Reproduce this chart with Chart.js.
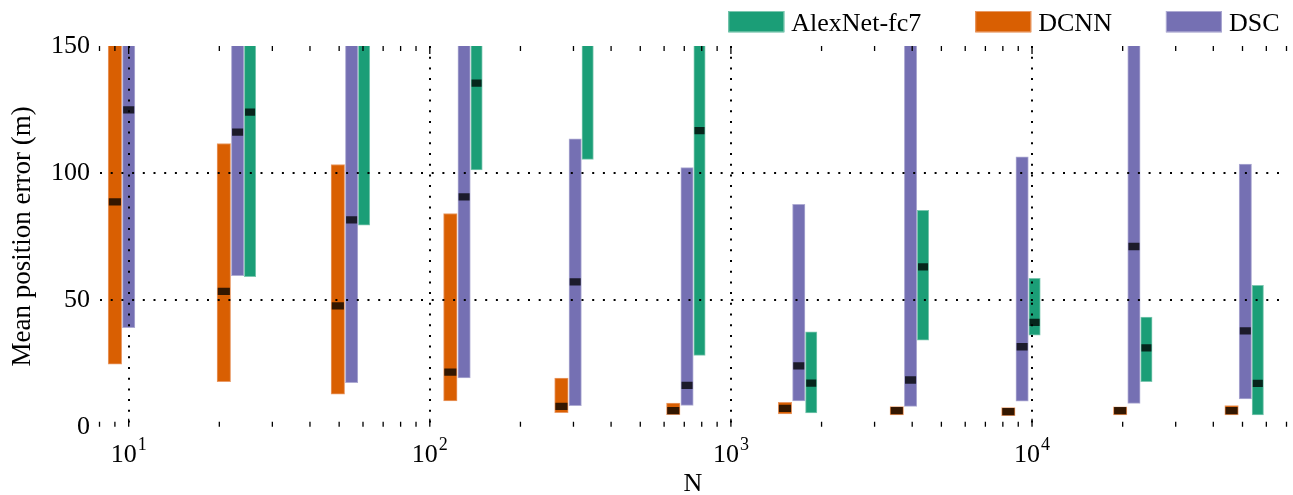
<!DOCTYPE html>
<html>
<head>
<meta charset="utf-8">
<script src="https://cdn.jsdelivr.net/npm/chart.js@4.4.1/dist/chart.umd.min.js"></script>
<style>
html, body { margin: 0; padding: 0; background: #fff; }
#wrap { width: 1293px; height: 495px; }
</style>
</head>
<body>
<div id="wrap"><canvas id="chart"></canvas></div>
<script>
// training set sizes (x positions of the groups)
var sizes = [10, 23, 55, 130, 304, 715, 1680, 3950, 9270, 21800, 51100];

// min / median / max of the error, per method
var alexMin = [null, 59.1, 79.4, 101.2, 105.3, 28.1, 5.4, 34.1, 36.1, 17.7, 4.6];
var alexMed = [null, 123.9, 168, 135.4, 172, 116.7, 17.2, 63.0, 41.1, 31.1, 17.1];
var alexMax = [null, 190, 240, 185, 230, 200, 37.4, 85.3, 58.5, 43.2, 55.7];

var dcnnMin = [24.6, 17.7, 12.8, 10.2, 5.5, 4.7, 5.0, 4.6, 4.3, 4.6, 4.6];
var dcnnMed = [88.6, 53.3, 47.6, 21.5, 8.0, 6.3, 7.2, 6.3, 5.9, 6.3, 6.3];
var dcnnMax = [175, 111.6, 103.3, 84.0, 19.2, 9.3, 9.6, 7.9, 7.5, 7.8, 8.3];

var dscMin = [39.0, 59.5, 17.3, 19.2, 8.3, 8.4, 10.2, 8.0, 10.1, 9.2, 10.9];
var dscMed = [124.8, 116.1, 81.5, 90.6, 57.1, 16.3, 24.0, 18.4, 31.5, 71.0, 37.8];
var dscMax = [210, 185, 195, 205, 113.4, 102.1, 87.6, 190, 106.3, 200, 103.5];

var yTicks = [0, 50, 100, 150];
var xDecades = [10, 100, 1000, 10000];

var FONT = '"Liberation Serif", "Times New Roman", serif';
Chart.defaults.font.family = FONT;
Chart.defaults.color = '#000';

var series = [
  {label: 'AlexNet-fc7', color: '#1b9e77', edge: '#7cc7b0', shift: 1.1, width: 11.4, lo: alexMin, mid: alexMed, hi: alexMax},
  {label: 'DCNN', color: '#d95f02', edge: '#e99a66', shift: 0.9, width: 13.5, lo: dcnnMin, mid: dcnnMed, hi: dcnnMax},
  {label: 'DSC', color: '#7570b3', edge: '#aeabd3', shift: 1.0, width: 12.4, lo: dscMin, mid: dscMed, hi: dscMax}
];

var datasets = [];
series.forEach(function(s){
  var pts = [];
  sizes.forEach(function(n, i){
    if (s.lo[i] === null) return;
    pts.push({x: n * s.shift, y: [s.lo[i], s.hi[i]]});
  });
  datasets.push({
    label: s.label, data: pts, backgroundColor: s.color, borderColor: s.edge,
    borderWidth: 1, borderSkipped: false, grouped: false, barThickness: s.width
  });
});
series.forEach(function(s){
  var pts = [];
  sizes.forEach(function(n, i){
    if (s.mid[i] === null) return;
    pts.push({x: n * s.shift, y: [s.mid[i] - 1.3, s.mid[i] + 1.3]});
  });
  datasets.push({
    label: s.label + ' median', data: pts, backgroundColor: 'rgba(0,0,0,0.76)',
    borderWidth: 0, grouped: false, barThickness: s.width - 2, order: -1
  });
});

function isDecade(v){
  var l = Math.log10(v);
  return Math.abs(l - Math.round(l)) < 1e-9;
}

// inward tick marks, 10^k labels and the legend
var decor = {
  id: 'decor',
  afterDraw: function(chart){
    var ctx = chart.ctx, a = chart.chartArea, xs = chart.scales.x;
    ctx.save();
    ctx.strokeStyle = '#000';
    ctx.lineWidth = 1.3;
    for (var e = 0; e <= 4; e++) {
      for (var k = 1; k <= 9; k++) {
        var v = k * Math.pow(10, e);
        if (v < xs.min - 1e-6 || v > xs.max + 1e-6) continue;
        var px = xs.getPixelForValue(v);
        var len = k === 1 ? 8 : 5;
        ctx.beginPath();
        ctx.moveTo(px, a.top); ctx.lineTo(px, a.top + len);
        ctx.moveTo(px, a.bottom); ctx.lineTo(px, a.bottom - len);
        ctx.stroke();
      }
    }

    ctx.fillStyle = '#000';
    ctx.textBaseline = 'alphabetic';
    ctx.textAlign = 'left';
    xDecades.forEach(function(v){
      var exp = String(Math.round(Math.log10(v)));
      ctx.font = '26px ' + FONT;
      var w1 = ctx.measureText('10').width;
      ctx.font = '18px ' + FONT;
      var w2 = ctx.measureText(exp).width;
      var x0 = xs.getPixelForValue(v) - (w1 + w2 + 1) / 2;
      ctx.font = '26px ' + FONT;
      ctx.fillText('10', x0, a.bottom + 35);
      ctx.font = '18px ' + FONT;
      ctx.fillText(exp, x0 + w1 + 1, a.bottom + 23.3);
    });

    // legend
    ctx.font = '26px ' + FONT;
    var x = 728.3;
    series.forEach(function(s){
      ctx.fillStyle = s.color;
      ctx.fillRect(x, 11, 56, 21.3);
      ctx.strokeStyle = s.edge;
      ctx.lineWidth = 1;
      ctx.strokeRect(x + 0.5, 11.5, 55, 20.3);
      ctx.fillStyle = '#000';
      ctx.fillText(s.label, x + 63, 31);
      x += 63 + ctx.measureText(s.label).width + 54;
    });
    ctx.restore();
  }
};

new Chart(document.getElementById('chart'), {
  type: 'bar',
  data: {datasets: datasets},
  plugins: [decor],
  options: {
    responsive: true,
    maintainAspectRatio: false,
    animation: false,
    layout: {padding: {top: 46, right: 6.5, left: 0, bottom: 0}},
    plugins: {legend: {display: false}, tooltip: {enabled: false}},
    scales: {
      x: {
        type: 'logarithmic',
        min: 8,
        max: 70000,
        offset: false,
        afterFit: function(s){ s.height = 68.3; },
        ticks: {display: false, autoSkip: false},
        grid: {
          offset: false,
          drawTicks: false,
          z: 1,
          lineWidth: 2,
          color: function(c){ return c.tick && isDecade(c.tick.value) ? '#000' : 'rgba(0,0,0,0)'; }
        },
        border: {display: false, dash: [2, 8.7]},
        title: {display: true, text: 'N', font: {size: 26, lineHeight: 0.8}, padding: {top: 0, bottom: 0.7}}
      },
      y: {
        min: 0,
        max: 150,
        afterFit: function(s){ s.width = 99.5; },
        afterBuildTicks: function(s){ s.ticks = yTicks.map(function(v){ return {value: v}; }); },
        ticks: {font: {size: 26}, padding: 9.5},
        grid: {
          drawTicks: false,
          z: 1,
          lineWidth: 2,
          color: function(c){ return c.tick && (c.tick.value === 50 || c.tick.value === 100) ? '#000' : 'rgba(0,0,0,0)'; }
        },
        border: {display: false, dash: [2, 8.7]},
        title: {display: true, text: 'Mean position error (m)', font: {size: 27, lineHeight: 0.8}, padding: {top: 11.8, bottom: 0}}
      }
    }
  }
});
</script>
</body>
</html>
